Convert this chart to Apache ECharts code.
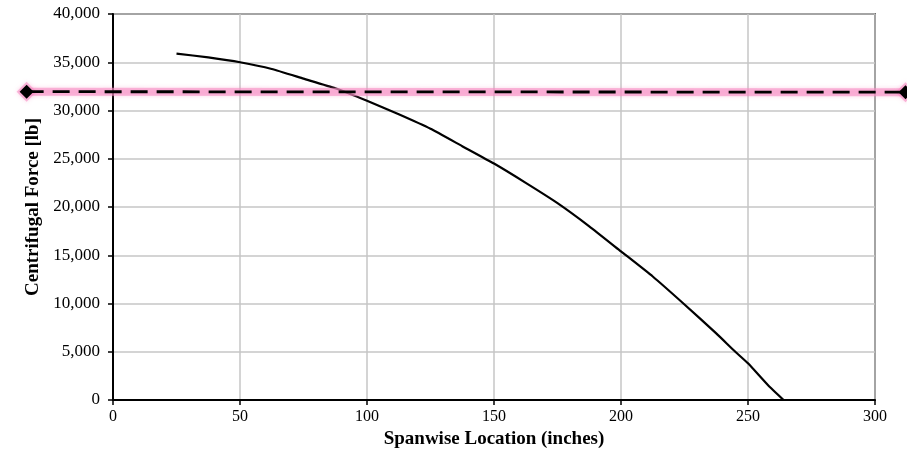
<!DOCTYPE html>
<html lang="en">
<head>
    <meta charset="UTF-8">
    <title>Centrifugal Force</title>
    <script src="https://cdn.jsdelivr.net/npm/echarts@6/dist/echarts.min.js"></script>
    <style>
        html, body { margin: 0; padding: 0; background: #fff; }
        #main { width: 907px; height: 456px; }
    </style>
</head>
<body>
    <div id="main"></div>
    <script>
        // spanwise location (inches) and centrifugal force (lb)
        var spanX = [25, 37.5, 50, 62.5, 75, 87.5, 100, 112.5, 125, 137.5, 150, 162.5, 175, 187.5, 200, 212.5, 225, 237.5, 245, 250, 258, 264];
        var forceY = [35900, 35500, 35000, 34300, 33300, 32300, 31000, 29600, 28100, 26300, 24500, 22500, 20400, 18000, 15400, 12800, 9900, 6900, 5000, 3800, 1500, 0];

        // dashed reference level, runs past both ends of the plot
        var limitX = [-34, 312];
        var limitY = [31950, 31900];

        var xTicks = [0, 50, 100, 150, 200, 250, 300];
        var yTicks = [0, 5000, 10000, 15000, 20000, 25000, 30000, 35000, 40000];

        function pairs(xs, ys) {
            var out = [];
            for (var i = 0; i < xs.length; i++) out.push([xs[i], ys[i]]);
            return out;
        }

        var chart = echarts.init(document.getElementById('main'));
        var serif = '"Liberation Serif", "DejaVu Serif", serif';
        var pink = 'rgba(247,140,195,0.6)';

        function diamond(cx, cy, r, style) {
            return {
                type: 'polygon',
                shape: { points: [[cx - r, cy], [cx, cy - r], [cx + r, cy], [cx, cy + r]] },
                style: style
            };
        }

        // the level line is drawn past the grid, so use a custom series without clipping
        function renderLimit(params, api) {
            var p0 = api.coord([api.value(0), api.value(1)]);
            var p1 = api.coord([api.value(2), api.value(3)]);
            return {
                type: 'group',
                children: [
                    {
                        type: 'line',
                        shape: { x1: p0[0], y1: p0[1], x2: p1[0], y2: p1[1] },
                        style: { stroke: pink, lineWidth: 8, shadowColor: pink, shadowBlur: 4, lineCap: 'round' }
                    },
                    diamond(p0[0], p0[1], 10, { fill: pink, shadowColor: pink, shadowBlur: 4 }),
                    diamond(p1[0], p1[1], 10, { fill: pink, shadowColor: pink, shadowBlur: 4 }),
                    {
                        type: 'line',
                        shape: { x1: p0[0], y1: p0[1], x2: p1[0], y2: p1[1] },
                        style: { stroke: '#000', lineWidth: 2.8, lineDash: [17, 9] }
                    },
                    diamond(p0[0], p0[1], 7, { fill: '#000' }),
                    diamond(p1[0], p1[1], 7, { fill: '#000' })
                ]
            };
        }

        chart.setOption({
            animation: false,
            grid: {
                left: 113, right: 32, top: 14, bottom: 56,
                show: true, borderColor: '#000', borderWidth: 1.5
            },
            xAxis: {
                type: 'value',
                min: xTicks[0], max: xTicks[xTicks.length - 1], interval: 50,
                name: 'Spanwise Location (inches)',
                nameLocation: 'middle', nameGap: 30,
                nameTextStyle: { fontFamily: serif, fontWeight: 'bold', fontSize: 19, color: '#000' },
                axisLine: { onZero: false, lineStyle: { color: '#000', width: 2 } },
                axisTick: { show: true, length: 5, lineStyle: { color: '#000', width: 1.5 } },
                axisLabel: { fontFamily: serif, fontSize: 16, color: '#000', margin: 9 },
                splitLine: { show: true, lineStyle: { color: '#c6c6c6', width: 1.5 } }
            },
            yAxis: {
                type: 'value',
                min: yTicks[0], max: yTicks[yTicks.length - 1], interval: 5000,
                name: 'Centrifugal Force [lb]',
                nameLocation: 'middle', nameGap: 68,
                nameTextStyle: { fontFamily: serif, fontWeight: 'bold', fontSize: 19, color: '#000' },
                axisLine: { show: true, lineStyle: { color: '#000', width: 2 } },
                axisTick: { show: true, length: 5, lineStyle: { color: '#000', width: 1.5 } },
                axisLabel: {
                    fontFamily: serif, fontSize: 17, color: '#000', margin: 13,
                    formatter: function (v) { return v.toLocaleString('en-US'); }
                },
                splitLine: { show: true, lineStyle: { color: '#c6c6c6', width: 1.5 } }
            },
            series: [
                {
                    type: 'line',
                    data: pairs(spanX, forceY),
                    smooth: 0.15,
                    showSymbol: false,
                    lineStyle: { color: '#000', width: 2.2 },
                    z: 2
                },
                {
                    type: 'custom',
                    clip: false,
                    silent: true,
                    data: [[limitX[0], limitY[0], limitX[1], limitY[1]]],
                    encode: { x: [0, 2], y: [1, 3] },
                    renderItem: renderLimit,
                    z: 3
                }
            ]
        });
    </script>
</body>
</html>
